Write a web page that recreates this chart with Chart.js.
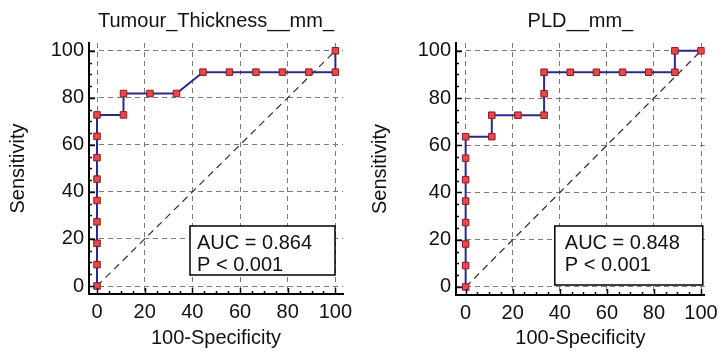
<!DOCTYPE html>
<html>
<head>
<meta charset="utf-8">
<script src="https://cdn.jsdelivr.net/npm/chart.js@4/dist/chart.umd.min.js"></script>
<style>
  body { margin: 0; background: #fff; }
  .painel { position: absolute; top: 0; width: 362px; height: 353px; }
</style>
</head>
<body>
<div class="painel" style="left:0"><canvas id="rocEsq" width="362" height="353"></canvas></div>
<div class="painel" style="left:362px"><canvas id="rocDir" width="362" height="353"></canvas></div>
<script>
// Dados (100-Especificidade vs Sensibilidade)
const eixoTicks = [0, 20, 40, 60, 80, 100];

const titulos = ['Tumour_Thickness__mm_', 'PLD__mm_'];
const textosAUC = [['AUC = 0.864', 'P < 0.001'], ['AUC = 0.848', 'P < 0.001']];

const fprEspessura = [0, 0, 0, 0, 0, 0, 0, 0, 0, 11.11, 11.11, 22.22, 33.33, 44.44, 55.56, 66.67, 77.78, 88.89, 100, 100];
const sensEspessura = [0, 9.09, 18.18, 27.27, 36.36, 45.45, 54.55, 63.64, 72.73, 72.73, 81.82, 81.82, 81.82, 90.91, 90.91, 90.91, 90.91, 90.91, 90.91, 100];

const fprPLD = [0, 0, 0, 0, 0, 0, 0, 0, 11.11, 11.11, 22.22, 33.33, 33.33, 33.33, 44.44, 55.56, 66.67, 77.78, 88.89, 88.89, 100];
const sensPLD = [0, 9.09, 18.18, 27.27, 36.36, 45.45, 54.55, 63.64, 63.64, 72.73, 72.73, 72.73, 81.82, 90.91, 90.91, 90.91, 90.91, 90.91, 90.91, 100, 100];

const diagX = [0, 100];
const diagY = [0, 100];

const fonte = '"Liberation Sans", Arial, sans-serif';

// Plugin: título centrado na área, tracinhos internos nos eixos + caixa do AUC
const pluginExtras = {
    id: 'extras',
    afterDatasetsDraw(chart, args, opts) {
        const ctx = chart.ctx;
        const xs = chart.scales.x, ys = chart.scales.y;
        const area = chart.chartArea;
        ctx.save();

        // título
        ctx.fillStyle = '#111';
        ctx.font = '20px ' + fonte;
        ctx.textAlign = 'center';
        ctx.textBaseline = 'middle';
        ctx.fillText(opts.titulo, (area.left + area.right) / 2, 21);

        ctx.strokeStyle = '#000';
        ctx.lineWidth = 1.5;
        for (let v = 0; v <= 100; v += 5) {
            const comp = v % 20 === 0 ? 6 : 3;
            const px = Math.round(xs.getPixelForValue(v)) + 0.5;
            ctx.beginPath();
            ctx.moveTo(px, area.bottom);
            ctx.lineTo(px, area.bottom - comp);
            ctx.stroke();
            const py = Math.round(ys.getPixelForValue(v)) + 0.5;
            ctx.beginPath();
            ctx.moveTo(area.left, py);
            ctx.lineTo(area.left + comp, py);
            ctx.stroke();
        }
        // caixa
        const c = opts.caixa;
        const bx = area.right - c.dx - c.w;
        const by = area.bottom - c.dy - c.h;
        ctx.fillStyle = '#fff';
        ctx.fillRect(bx, by, c.w, c.h);
        ctx.lineWidth = 1.5;
        ctx.strokeRect(bx, by, c.w, c.h);
        ctx.fillStyle = '#111';
        ctx.textAlign = 'left';
        opts.linhas.forEach((t, i) => {
            ctx.fillText(t, bx + c.tx, by + 17 + i * 22);
        });
        ctx.restore();
    }
};

function criarROC(id, idx, fpr, sens, cfg) {
    const pontos = fpr.map((x, i) => ({ x: x, y: sens[i] }));
    const diagonal = diagX.map((x, i) => ({ x: x, y: diagY[i] }));
    const ctx = document.getElementById(id).getContext('2d');

    return new Chart(ctx, {
        type: 'line',
        data: {
            datasets: [{
                data: pontos,
                borderColor: '#2a2a8c',
                borderWidth: 2,
                pointStyle: 'rect',
                pointRadius: 4.6,
                pointBackgroundColor: '#e9474b',
                pointBorderColor: '#8e1b1b',
                pointBorderWidth: 1,
                fill: false,
                tension: 0
            }, {
                data: diagonal,
                borderColor: '#333',
                borderWidth: 1.2,
                borderDash: [7, 5],
                pointRadius: 0,
                fill: false
            }]
        },
        options: {
            responsive: false,
            animation: false,
            layout: { padding: { left: 0, right: cfg.padDir, top: 43, bottom: 0 } },
            plugins: {
                legend: { display: false },
                tooltip: { enabled: false },
                title: { display: false },
                extras: { caixa: cfg.caixa, linhas: textosAUC[idx], titulo: titulos[idx] }
            },
            scales: {
                x: {
                    type: 'linear',
                    min: cfg.xMin,
                    max: cfg.xMax,
                    afterBuildTicks: s => { s.ticks = eixoTicks.map(v => ({ value: v })); },
                    afterFit: s => { s.height = cfg.altX; },
                    grid: { color: '#7a7a7a', lineWidth: 1, drawTicks: false },
                    border: { display: true, color: '#000', width: 2, dash: [5, 4] },
                    ticks: { color: '#111', padding: 6, maxRotation: 0, font: { family: fonte, size: 20 } },
                    title: {
                        display: true,
                        text: '100-Specificity',
                        color: '#111',
                        font: { family: fonte, size: 20 },
                        padding: { top: 0, bottom: 3 }
                    }
                },
                y: {
                    type: 'linear',
                    min: -3.4,
                    max: 103.3,
                    afterBuildTicks: s => { s.ticks = eixoTicks.map(v => ({ value: v })); },
                    afterFit: s => { s.width = cfg.largY; },
                    grid: { color: '#7a7a7a', lineWidth: 1, drawTicks: false },
                    border: { display: true, color: '#000', width: 2, dash: [5, 4] },
                    ticks: { color: '#111', padding: 5, font: { family: fonte, size: 20 } },
                    title: {
                        display: true,
                        text: 'Sensitivity',
                        color: '#111',
                        font: { family: fonte, size: 20 },
                        padding: { top: 6, bottom: 0 }
                    }
                }
            }
        },
        plugins: [pluginExtras]
    });
}

criarROC('rocEsq', 0, fprEspessura, sensEspessura, {
    xMin: -3.36, xMax: 103.2, padDir: 19, altX: 59, largY: 89,
    caixa: { w: 145, h: 49, dx: 8, dy: 19, tx: 7 }
});
criarROC('rocDir', 1, fprPLD, sensPLD, {
    xMin: -4.1, xMax: 101.6, padDir: 19, altX: 58, largY: 94,
    caixa: { w: 148, h: 59, dx: 2, dy: 10, tx: 10 }
});
</script>
</body>
</html>
